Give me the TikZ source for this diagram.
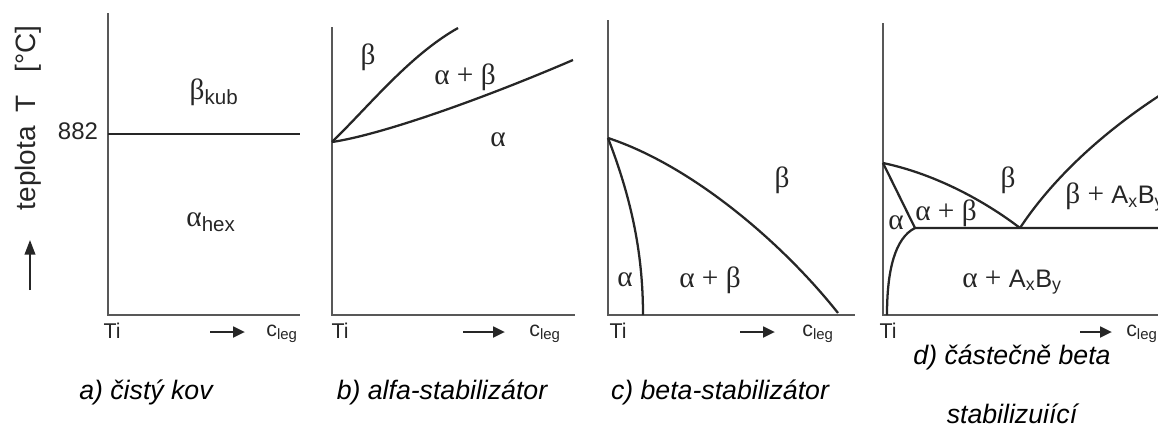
\documentclass[tikz,border=0pt]{standalone}
\usepackage{fontspec}
\setmainfont{Liberation Sans}
\newfontfamily\greekfont{Liberation Serif}
\newfontfamily\labelfont{Liberation Sans}
\usetikzlibrary{arrows.meta}
\definecolor{ink}{HTML}{262626}
\definecolor{axisgray}{HTML}{585858}
\newcommand{\cmpd}{{\labelfont\fontsize{19}{22}\selectfont A\textsubscript{x}B\textsubscript{y}}}

\begin{document}
\begin{tikzpicture}[x=0.75pt, y=-0.75pt,
  axis/.style={draw=axisgray, line width=1.2pt},
  curve/.style={draw=ink, line width=1.7pt},
  phase/.style={text=ink, font=\greekfont\fontsize{22}{26}\selectfont, inner sep=0pt},
  tick/.style={text=ink, font=\fontsize{16}{19}\selectfont, inner sep=0pt},
  caption/.style={text=black, font=\fontsize{20}{24}\selectfont\itshape, inner sep=0pt},
  conc/.style={draw=ink, line width=2pt, -{Triangle[length=9pt, width=8pt]}}]
  \useasboundingbox (0,0) rectangle (1158,429);
  \clip (0,0) rectangle (1158,429);

  % a) pure metal
  \draw[axis] (108,13) -- (108,315) -- (300,315);
  \draw[curve] (108,134) -- (300,134);
  \node[tick, font=\fontsize{18}{21}\selectfont] (a-882) at (78,131) {882};
  \node[phase] (a-beta) at (214,92) {β\textsubscript{\labelfont kub}};
  \node[phase] (a-alpha) at (211,222) {α\textsubscript{\labelfont hex}};
  \node[text=ink, font=\fontsize{21}{25}\selectfont, rotate=90, inner sep=0pt] (a-temp) at (28,118) {teplota\hspace{0.5em}T\hspace{0.8em}[°C]};
  \draw[draw=ink, line width=1.4pt, -{Triangle[length=11pt, width=8pt]}] (30,290) -- (30,240);
  \node[tick] (a-ti) at (112,331) {Ti};
  \draw[conc] (210,332) -- (245,332);
  \node[tick] (a-c) at (282,334) {c\textsubscript{leg}};

  % b) alpha stabiliser
  \draw[axis] (332,27) -- (332,315) -- (575,315);
  \draw[curve] (332,142) .. controls (370,105) and (410,55) .. (458,28);
  \draw[curve] (332,142) .. controls (380,135) and (480,100) .. (573,60);
  \node[phase] (b-beta) at (368,57) {β};
  \node[phase] (b-ab) at (465,77) {α + β};
  \node[phase] (b-alpha) at (498,140) {α};
  \node[tick] (b-ti) at (340,331) {Ti};
  \draw[conc] (463,332) -- (505,332);
  \node[tick] (b-c) at (545,334) {c\textsubscript{leg}};

  % c) beta stabiliser
  \draw[axis] (608,20) -- (608,315) -- (855,315);
  \draw[curve] (608,138) .. controls (690,165) and (780,240) .. (838,313);
  \draw[curve] (608,138) .. controls (630,195) and (643,250) .. (643,315);
  \node[phase] (c-alpha) at (625,280) {α};
  \node[phase] (c-ab) at (710,280) {α + β};
  \node[phase] (c-beta) at (782,180) {β};
  \node[tick] (c-ti) at (618,331) {Ti};
  \draw[conc] (740,332) -- (775,332);
  \node[tick] (c-c) at (818,334) {c\textsubscript{leg}};

  % d) partly beta stabilising
  \coordinate (d-top) at (883,163);
  \coordinate (d-pt) at (915,228);
  \coordinate (d-eut) at (1020,228);
  \draw[axis] (883,23) -- (883,315) -- (1170,315);
  \draw[curve] (d-top) -- (d-pt) -- (1170,228);
  \draw[curve] (d-top) .. controls (940,175) and (990,205) .. (d-eut);
  \draw[curve] (d-eut) .. controls (1045,190) and (1090,140) .. (1165,92);
  \draw[curve] (d-pt) .. controls (895,238) and (887,270) .. (887,315);
  \node[phase] (d-alpha) at (896,223) {α};
  \node[phase] (d-ab) at (946,213) {α + β};
  \node[phase] (d-beta) at (1008,180) {β};
  \node[phase, anchor=west] (d-bab) at (1065,197) {β + \cmpd};
  \node[phase] (d-aab) at (1012,282) {α + \cmpd};
  \node[tick] (d-ti) at (888,331) {Ti};
  \draw[conc] (1080,332) -- (1112,332);
  \node[tick, anchor=west] (d-c) at (1126,334) {c\textsubscript{leg}};

  \node[caption] (cap-a) at (146,392) {a) čistý kov};
  \node[caption] (cap-b) at (442,392) {b) alfa-stabilizátor};
  \node[caption] (cap-c) at (720,392) {c) beta-stabilizátor};
  \node[caption] (cap-d1) at (1012,357) {d) částečně beta};
  \node[caption] (cap-d2) at (1012,414) {stabilizuiící};
\end{tikzpicture}
\end{document}
